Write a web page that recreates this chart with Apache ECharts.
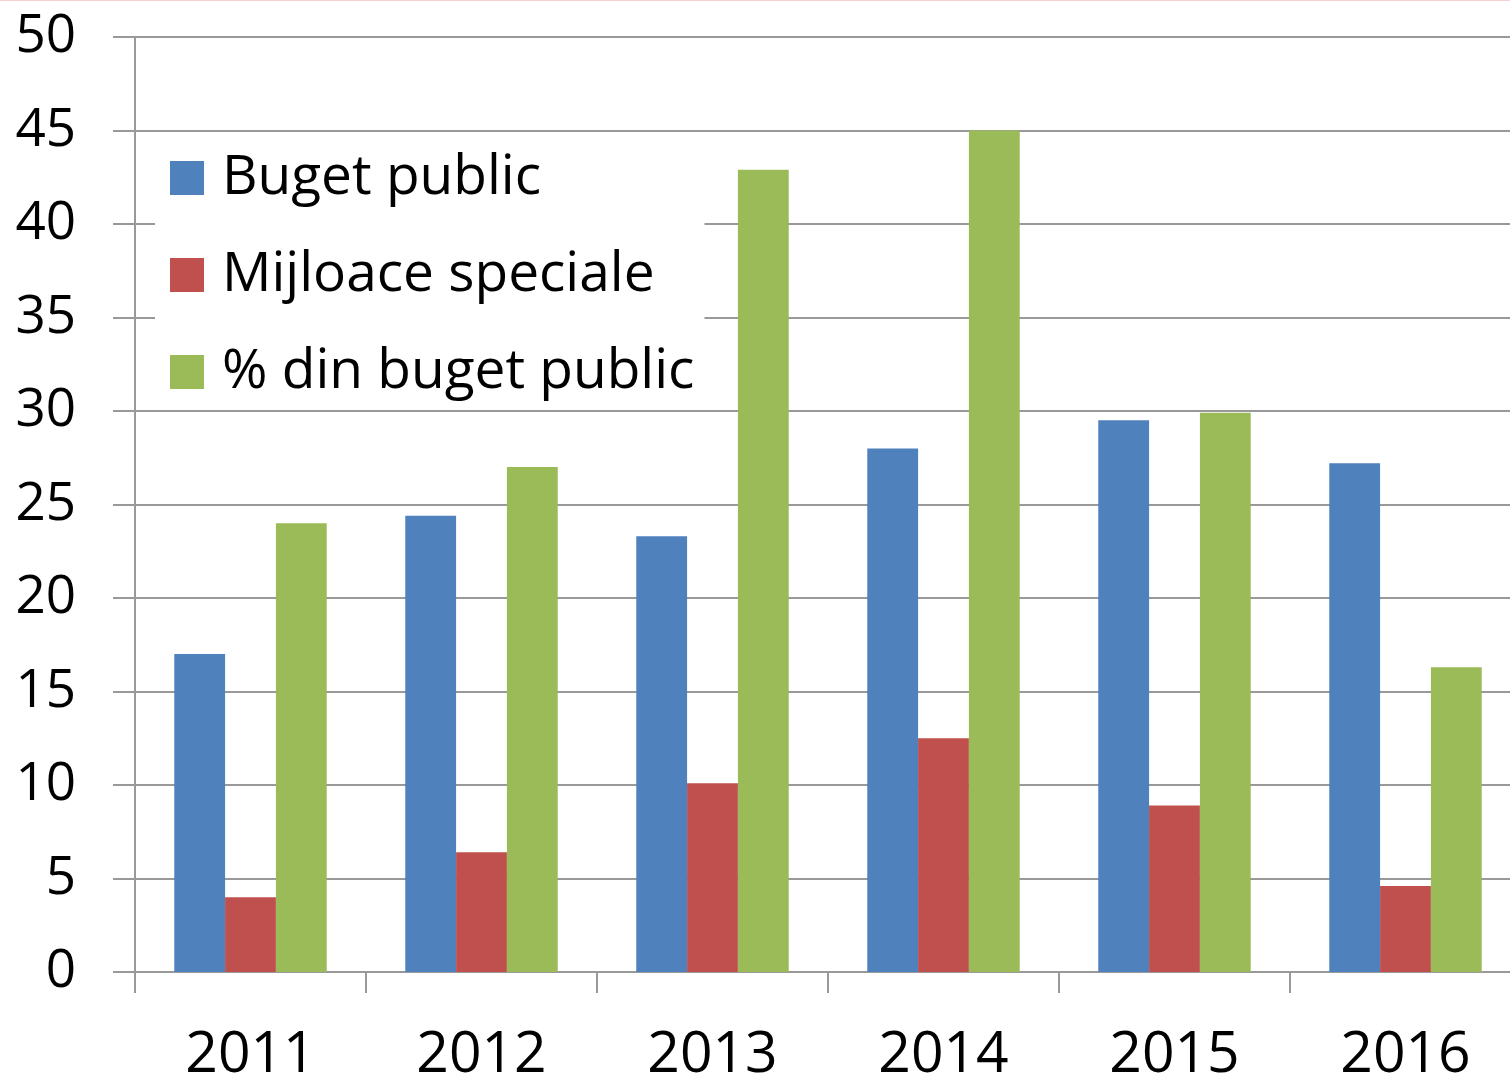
<!DOCTYPE html>
<html>
<head>
<meta charset="utf-8">
<script src="https://cdn.jsdelivr.net/npm/echarts@6/dist/echarts.min.js"></script>
<style>
  html, body { margin: 0; padding: 0; background: #fff; }
  #chart { width: 1510px; height: 1077px; }
</style>
</head>
<body>
<div id="chart"></div>
<script>
var years = ['2011', '2012', '2013', '2014', '2015', '2016'];
var bugetPublic = [17, 24.4, 23.3, 28, 29.5, 27.2];
var mijloaceSpeciale = [4, 6.4, 10.1, 12.5, 8.9, 4.6];
var procentBuget = [24, 27, 42.9, 45, 29.9, 16.3];
var seriesNames = ['Buget public', 'Mijloace speciale', '% din buget public'];
var colors = ['#4F81BD', '#C0504D', '#9BBB59'];

var myChart = echarts.init(document.getElementById('chart'));

var font = 'Open Sans';

var option = {
    backgroundColor: '#fff',
    animation: false,
    color: colors,
    graphic: [{
        type: 'rect',
        shape: { x: 0, y: 0, width: 1510, height: 1 },
        style: { fill: '#f8d0d0' }
    }],
    grid: {
        left: 135,
        width: 1386,
        top: 37,
        height: 935,
        containLabel: false,
        outerBoundsMode: 'none'
    },
    legend: {
        orient: 'vertical',
        left: 155,
        top: 133,
        backgroundColor: '#fff',
        padding: [15, 10, 8, 15],
        itemWidth: 34,
        itemHeight: 34,
        itemGap: 37,
        icon: 'rect',
        textStyle: {
            fontFamily: font,
            fontSize: 55,
            color: '#000',
            lineHeight: 60,
            padding: [0, 0, 0, 13]
        },
        data: seriesNames
    },
    xAxis: {
        type: 'category',
        data: years,
        axisLine: { lineStyle: { color: '#999', width: 2 } },
        axisTick: { show: true, length: 21, alignWithLabel: false, lineStyle: { color: '#999', width: 2 } },
        axisLabel: {
            fontFamily: font,
            fontSize: 57,
            color: '#000',
            margin: 55
        }
    },
    yAxis: {
        type: 'value',
        min: 0,
        max: 50,
        interval: 5,
        axisLine: { show: true, lineStyle: { color: '#999', width: 2 } },
        axisTick: { show: true, length: 22, lineStyle: { color: '#999', width: 2 } },
        splitLine: { lineStyle: { color: '#999', width: 2 } },
        axisLabel: {
            fontFamily: font,
            fontSize: 53,
            color: '#000',
            margin: 59
        }
    },
    series: [{
        name: seriesNames[0],
        type: 'bar',
        barGap: '0%',
        barCategoryGap: '34%',
        data: bugetPublic
    }, {
        name: seriesNames[1],
        type: 'bar',
        data: mijloaceSpeciale
    }, {
        name: seriesNames[2],
        type: 'bar',
        data: procentBuget
    }]
};

myChart.setOption(option);
</script>
</body>
</html>
